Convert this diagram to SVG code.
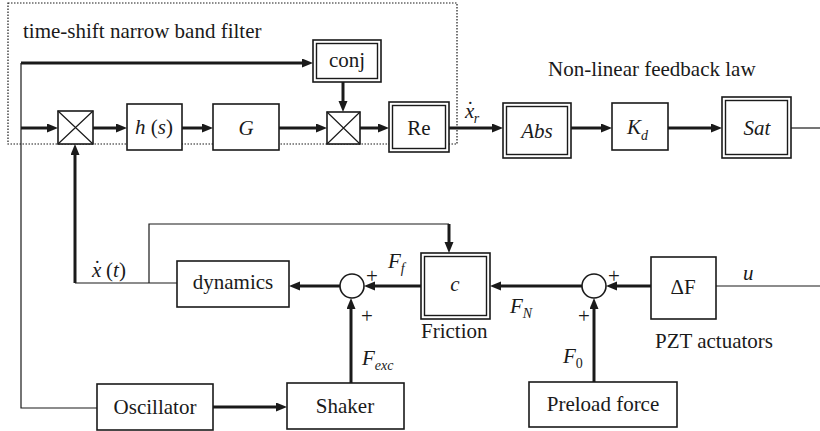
<svg xmlns="http://www.w3.org/2000/svg" width="820" height="431" viewBox="0 0 820 431">
<defs>
<marker id="ah" markerUnits="userSpaceOnUse" markerWidth="13" markerHeight="10" refX="2" refY="4.5" orient="auto">
<path d="M0,0 L11,4.5 L0,9 z" fill="#1a1a1a"/>
</marker>
<style>
text{font-family:"Liberation Serif","Times New Roman",serif;font-size:21px;fill:#1a1a1a}
.it{font-style:italic}
.c{text-anchor:middle}
.box{fill:#fff;stroke:#1a1a1a;stroke-width:1.6}
.dbl{fill:none;stroke:#1a1a1a;stroke-width:1.4}
.thick{fill:none;stroke:#1a1a1a;stroke-width:3;marker-end:url(#ah)}
.thin{fill:none;stroke:#1a1a1a;stroke-width:1.2}
.sum{fill:#fff;stroke:#1a1a1a;stroke-width:1.6}
.sub{font-size:14px}
</style>
</defs>
<rect width="820" height="431" fill="#fff"/>

<g id="filter-frame">
<rect x="8" y="3" width="449" height="141" fill="none" stroke="#1a1a1a" stroke-width="1.2" stroke-dasharray="1.5,1.5"/>
<text x="23" y="38">time-shift narrow band filter</text>
</g>
<text x="548" y="76">Non-linear feedback law</text>

<g id="connectors">
<path class="thin" d="M21,63 V408 H97"/>
<path class="thick" d="M21,63 H304"/>
<path class="thick" d="M21,128 H49"/>
<path class="thick" d="M93,128 H118"/>
<path class="thick" d="M182,128 H204"/>
<path class="thick" d="M279,128 H318"/>
<path class="thick" d="M360,128 H380"/>
<path class="thick" d="M343,82 V103"/>
<path class="thick" d="M449,128 H494"/>
<path class="thick" d="M571,128 H603"/>
<path class="thick" d="M668,128 H713"/>
<path class="thin" d="M791,128 H820"/>
<path class="thick" d="M75,283 V153"/>
<path class="thin" d="M75,283 H177"/>
<path class="thin" d="M149,283 V224 H449"/>
<path class="thick" d="M449,224 V244"/>
<path class="thick" d="M340,286 H298"/>
<path class="thick" d="M351,383 V307"/>
<path class="thick" d="M421,286 H373"/>
<path class="thick" d="M582,286 H499"/>
<path class="thick" d="M594,382 V307"/>
<path class="thick" d="M651,286 H615"/>
<path class="thin" d="M716,286 H820"/>
<path class="thick" d="M213,407 H278"/>
</g>

<g id="conj">
<rect class="box" x="313" y="40" width="68" height="42"/>
<rect class="dbl" x="316.5" y="43.5" width="61" height="35"/>
<text class="c" x="347" y="67">conj</text>
</g>
<g id="mult1">
<rect class="box" x="58" y="111" width="35" height="33"/>
<path class="thin" d="M58,111 L93,144 M93,111 L58,144"/>
</g>
<g id="hs">
<rect class="box" x="127" y="104" width="55" height="46"/>
<text class="c" x="154" y="134"><tspan class="it">h</tspan> (<tspan class="it">s</tspan>)</text>
</g>
<g id="G">
<rect class="box" x="213" y="104" width="66" height="46"/>
<text class="c it" x="246" y="135">G</text>
</g>
<g id="mult2">
<rect class="box" x="327" y="112" width="33" height="32"/>
<path class="thin" d="M327,112 L360,144 M360,112 L327,144"/>
</g>
<g id="Re">
<rect class="box" x="389" y="102" width="60" height="50"/>
<rect class="dbl" x="392.5" y="105.5" width="53" height="43"/>
<text class="c" x="419" y="135">Re</text>
</g>
<text id="xr-label" x="465" y="118"><tspan class="it">x</tspan><tspan dx="-7.5" dy="-2">˙</tspan><tspan class="it sub" dx="0" dy="7">r</tspan></text>
<g id="Abs">
<rect class="box" x="503" y="103" width="68" height="55"/>
<rect class="dbl" x="506.5" y="106.5" width="61" height="48"/>
<text class="c it" x="537" y="138">Abs</text>
</g>
<g id="Kd">
<rect class="box" x="612" y="103" width="56" height="47"/>
<text class="it" x="627" y="134">K<tspan class="sub" dy="6">d</tspan></text>
</g>
<g id="Sat">
<rect class="box" x="722" y="97" width="69" height="61"/>
<rect class="dbl" x="725.5" y="100.5" width="62" height="54"/>
<text class="c it" x="757" y="135">Sat</text>
</g>

<text id="xt-label" x="92" y="277"><tspan class="it">x</tspan><tspan dx="-7.5" dy="-2">˙</tspan><tspan dy="2"> (</tspan><tspan class="it">t</tspan>)</text>
<g id="dynamics">
<rect class="box" x="177" y="261" width="112" height="46"/>
<text class="c" x="233" y="289">dynamics</text>
</g>
<g id="sum1">
<circle class="sum" cx="352" cy="286" r="12"/>
<text x="366" y="283">+</text>
<text x="361" y="323">+</text>
</g>
<text id="Ff" class="it" x="388" y="268">F<tspan class="sub" dy="5">f</tspan></text>
<text id="Fexc" class="it" x="362" y="365">F<tspan class="sub" dy="5">exc</tspan></text>
<g id="friction">
<rect class="box" x="421" y="253" width="69" height="66"/>
<rect class="dbl" x="424.5" y="256.5" width="62" height="59"/>
<text class="c it" x="455" y="291">c</text>
<text x="421" y="338">Friction</text>
</g>
<text id="FN" class="it" x="510" y="313">F<tspan class="sub" dy="5">N</tspan></text>
<g id="sum2">
<circle class="sum" cx="594" cy="286" r="12"/>
<text x="608" y="283">+</text>
<text x="578" y="323">+</text>
</g>
<text id="F0" class="it" x="563" y="363">F<tspan class="sub" dy="5" style="font-style:normal">0</tspan></text>
<g id="preload">
<rect class="box" x="529" y="382" width="148" height="45"/>
<text class="c" x="603" y="411">Preload force</text>
</g>
<g id="deltaF">
<rect class="box" x="651" y="257" width="65" height="62"/>
<text class="c" x="683" y="294">ΔF</text>
<text x="655" y="348">PZT actuators</text>
</g>
<text id="u" class="it" x="743" y="280">u</text>
<g id="oscillator">
<rect class="box" x="97" y="384" width="116" height="46"/>
<text class="c" x="155" y="414">Oscillator</text>
</g>
<g id="shaker">
<rect class="box" x="287" y="383" width="117" height="46"/>
<text class="c" x="345" y="413">Shaker</text>
</g>
</svg>
